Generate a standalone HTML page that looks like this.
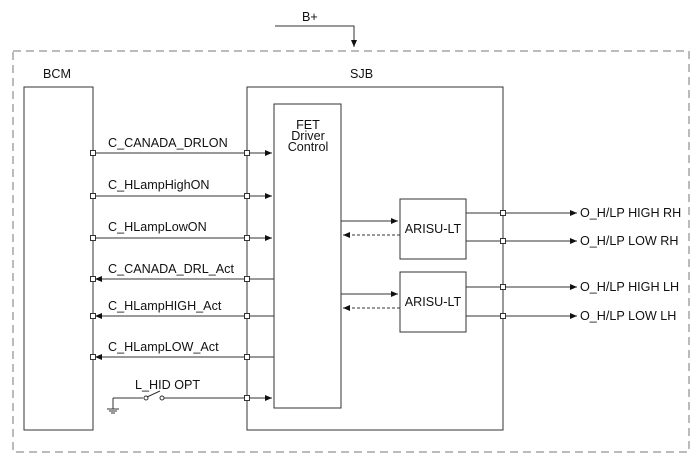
<!DOCTYPE html>
<html><head><meta charset="utf-8"><style>
html,body{margin:0;padding:0;background:#fff;}
svg{display:block;font-family:"Liberation Sans",Arial,sans-serif;}
text{font-size:12.6px;fill:#111;}
</style></head><body>
<svg width="700" height="464" viewBox="0 0 700 464" xmlns="http://www.w3.org/2000/svg">
<defs>
<marker id="a" markerWidth="8" markerHeight="6" refX="7" refY="3" orient="auto" markerUnits="userSpaceOnUse"><path d="M0,0 L7,3 L0,6 Z" fill="#111"/></marker>
</defs>
<g fill="none" stroke="#333" stroke-width="1">
<rect x="13" y="51" width="676" height="401" stroke="#777" stroke-dasharray="8,5"/>
<path d="M275 26 H354 V47" marker-end="url(#a)"/>
<path d="M24 87 H93 V430 H24 Z"/>
<rect x="247" y="87" width="256" height="343"/>
<rect x="274" y="104" width="67" height="304"/>
<rect x="400" y="199" width="66" height="60"/>
<rect x="400" y="272" width="66" height="60"/>
<path d="M93 153 H272" marker-end="url(#a)"/>
<path d="M93 196 H272" marker-end="url(#a)"/>
<path d="M93 238 H272" marker-end="url(#a)"/>
<path d="M274 279 H95" marker-end="url(#a)"/>
<path d="M274 316 H95" marker-end="url(#a)"/>
<path d="M274 357 H95" marker-end="url(#a)"/>
<path d="M160 398 H272" marker-end="url(#a)"/>
<path d="M113 398 H143 M113 398 V409 M107 409 H119 M109 411 H117 M111 413 H115"/>
<circle cx="146" cy="398" r="2" fill="#fff"/>
<circle cx="162" cy="398" r="2" fill="#fff"/>
<path d="M147 397 L160 391"/>
<path d="M341 221 H398" marker-end="url(#a)"/>
<path d="M400 235 H343" stroke-dasharray="3,2" marker-end="url(#a)"/>
<path d="M341 294 H398" marker-end="url(#a)"/>
<path d="M400 308 H343" stroke-dasharray="3,2" marker-end="url(#a)"/>
<path d="M466 213 H577" marker-end="url(#a)"/>
<path d="M466 241 H577" marker-end="url(#a)"/>
<path d="M466 287 H577" marker-end="url(#a)"/>
<path d="M466 316 H577" marker-end="url(#a)"/>
</g>
<g fill="#fff" stroke="#333" stroke-width="1">
<rect x="90.5" y="150.5" width="5" height="5"/><rect x="244.5" y="150.5" width="5" height="5"/>
<rect x="90.5" y="193.5" width="5" height="5"/><rect x="244.5" y="193.5" width="5" height="5"/>
<rect x="90.5" y="235.5" width="5" height="5"/><rect x="244.5" y="235.5" width="5" height="5"/>
<rect x="90.5" y="276.5" width="5" height="5"/><rect x="244.5" y="276.5" width="5" height="5"/>
<rect x="90.5" y="313.5" width="5" height="5"/><rect x="244.5" y="313.5" width="5" height="5"/>
<rect x="90.5" y="354.5" width="5" height="5"/><rect x="244.5" y="354.5" width="5" height="5"/>
<rect x="244.5" y="395.5" width="5" height="5"/>
<rect x="500.5" y="210.5" width="5" height="5"/>
<rect x="500.5" y="238.5" width="5" height="5"/>
<rect x="500.5" y="284.5" width="5" height="5"/>
<rect x="500.5" y="313.5" width="5" height="5"/>
</g>
<text x="302" y="21">B+</text>
<text x="43" y="78">BCM</text>
<text x="350" y="78">SJB</text>
<text x="308" y="129" text-anchor="middle">FET</text>
<text x="308" y="140" text-anchor="middle">Driver</text>
<text x="308" y="151" text-anchor="middle">Control</text>
<text x="108" y="147">C_CANADA_DRLON</text>
<text x="108" y="189">C_HLampHighON</text>
<text x="108" y="231">C_HLampLowON</text>
<text x="108" y="273">C_CANADA_DRL_Act</text>
<text x="108" y="310">C_HLampHIGH_Act</text>
<text x="108" y="351">C_HLampLOW_Act</text>
<text x="135" y="389">L_HID OPT</text>
<text x="433" y="233" text-anchor="middle">ARISU-LT</text>
<text x="433" y="306" text-anchor="middle">ARISU-LT</text>
<text x="580" y="217">O_H/LP HIGH RH</text>
<text x="580" y="245">O_H/LP LOW RH</text>
<text x="580" y="291">O_H/LP HIGH LH</text>
<text x="580" y="320">O_H/LP LOW LH</text>
</svg>
</body></html>
